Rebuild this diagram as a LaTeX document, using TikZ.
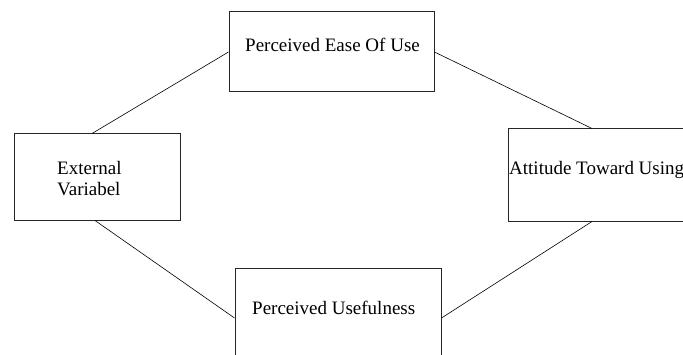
\documentclass[tikz,border=0pt]{standalone}
\usepackage{fontspec}
\setmainfont{Liberation Serif}

\begin{document}
\begin{tikzpicture}[x=1pt,y=1pt,
        box/.style={draw=black!85,line width=1pt,rectangle,inner sep=0pt},
        txt/.style={inner sep=0pt,font=\fontsize{19}{21}\selectfont},
        link/.style={-,line width=0.6pt}]
        \useasboundingbox (0,0) rectangle (683,354);

        \node[box,minimum width=166pt,minimum height=86pt] (ext) at (97,177) {};
        \node[box,minimum width=205pt,minimum height=80pt] (ease) at (331.5,302) {};
        \node[box,minimum width=206pt,minimum height=100pt] (useful) at (338,36) {};
        \node[box,minimum width=190pt,minimum height=92pt] (att) at (603,179) {};

        \node[txt,anchor=west,align=left] (extt) at (57,175) {External\\Variabel};
        \node[txt,anchor=base west] (easet) at (245,302) {Perceived Ease Of Use};
        \node[txt,anchor=base west] (usefult) at (252,40) {Perceived Usefulness};
        \node[txt,anchor=base west] (attt) at (509,179) {Attitude Toward Using};

        \path[link] ([xshift=-5pt]ext.north)
          edge (ease.west);
        \path[link] ([xshift=-2pt]ext.south)
          edge (useful.west);
        \path[link] (ease.east)
          edge ([xshift=-11pt]att.north);
        \path[link] (useful.east)
          edge ([xshift=-11pt]att.south);
      \end{tikzpicture}
\end{document}
